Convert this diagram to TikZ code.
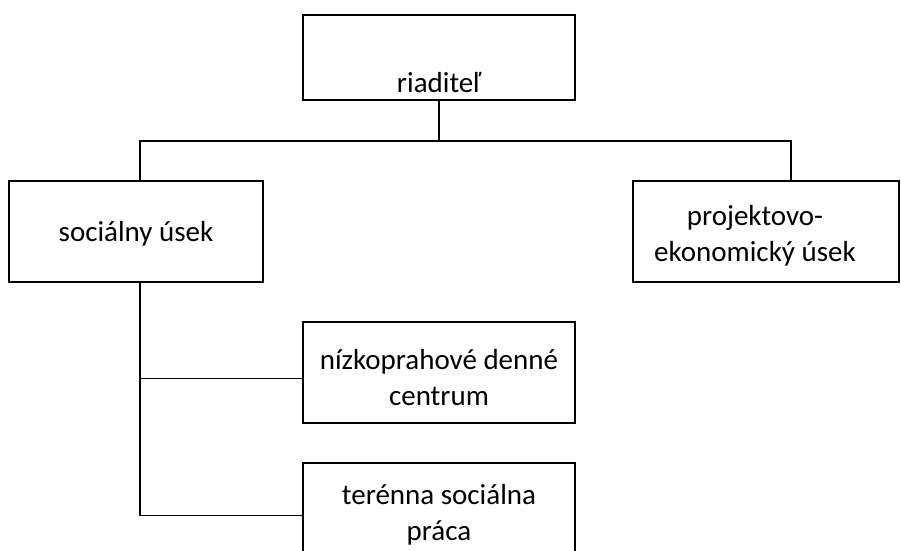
\documentclass[tikz,border=0pt]{standalone}
\usepackage{fontspec}
\setmainfont{Carlito}
\begin{document}
\begin{tikzpicture}[x=1pt,y=-1pt]
\tikzset{
  box/.style={draw, line width=1.8pt, inner sep=0pt, minimum height=101pt},
  lbl/.style={font=\fontsize{29}{36}\selectfont, align=center, inner sep=0pt},
  conn/.style={line width=1.8pt}
}
\useasboundingbox (0,0) rectangle (901,550);
\clip (0,0) rectangle (901,550);
\fill[white] (0,0) rectangle (901,550);
% boxes
\node[box, minimum width=272pt, minimum height=85pt] (dir) at (439,57.5) {};
\node[lbl] (dirt) at (439,82.5) {riaditeľ};
\node[box, minimum width=254pt] (soc) at (136,231.5) {};
\node[lbl] (soct) at (136,234) {sociálny úsek};
\node[box, minimum width=266pt] (proj) at (766,231.5) {};
\node[lbl] (projt) at (755,236) {projektovo-\\ekonomický úsek};
\node[box, minimum width=272pt] (niz) at (439,372.5) {};
\node[lbl] (nizt) at (439,377.5) {nízkoprahové denné\\centrum};
\node[box, minimum width=272pt] (ter) at (439,513.5) {};
\node[lbl] (tert) at (439,515) {terénna sociálna\\práca};
% connectors
\coordinate (bus) at (439,141);
\draw[conn] (dir.south) -- (bus);
\draw[conn] ([xshift=4pt]soc.north) |- (bus) -| ([xshift=25pt]proj.north);
\draw[conn] ([xshift=4pt]soc.south) |- ([yshift=-2pt]ter.west);
\draw[conn] ([yshift=-6pt]niz.west) -| ([xshift=4pt]soc.south);
\end{tikzpicture}
\end{document}
